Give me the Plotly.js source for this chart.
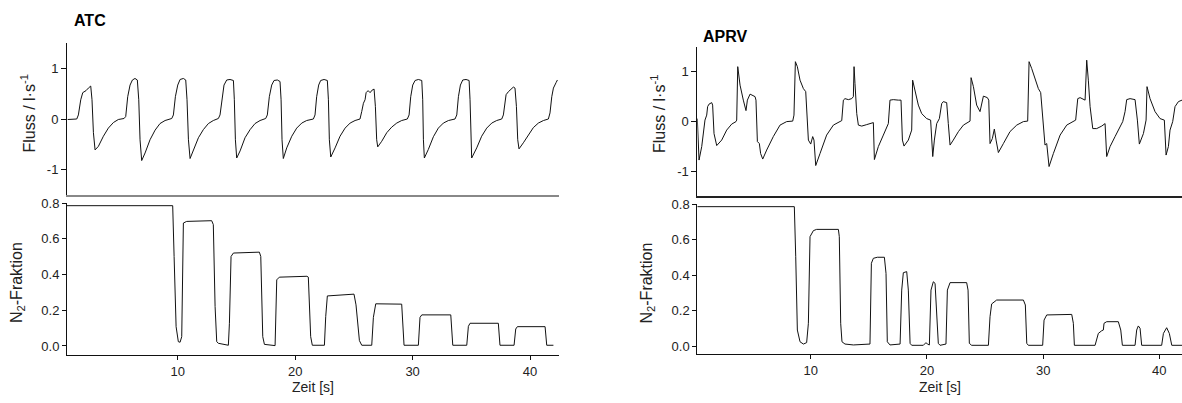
<!DOCTYPE html>
<html>
<head>
<meta charset="utf-8">
<script src="https://cdn.plot.ly/plotly-3.0.1.min.js"></script>
<style>html,body{margin:0;padding:0;background:#fff;}#chart{width:1182px;height:403px;}</style>
</head>
<body>
<div id="chart"></div>
<script>
// ---------- ATC: flow (l/s) over time (s) ----------
const atcFlowTime = [0.63,1.40,1.54,1.74,1.91,2.19,2.39,2.59,2.70,2.82,2.96,3.24,3.67,4.09,4.52,4.94,5.43,
5.57,5.74,5.94,6.14,6.36,6.56,6.68,6.79,6.93,7.22,7.64,8.07,8.49,8.92,9.49,
9.63,9.80,10.00,10.20,10.48,10.68,10.79,10.91,11.05,11.33,11.76,12.18,12.61,13.03,13.46,
13.60,13.77,13.94,14.17,14.45,14.74,14.82,14.91,15.02,15.31,15.73,16.16,16.58,17.01,17.49,
17.63,17.80,18.00,18.20,18.48,18.71,18.80,18.88,18.99,19.28,19.71,20.13,20.56,20.98,21.55,
21.69,21.83,22.00,22.17,22.46,22.74,22.83,22.91,23.03,23.40,23.82,24.25,24.68,25.10,25.52,
25.67,25.81,25.95,26.04,26.21,26.38,26.55,26.72,26.83,26.94,27.03,27.37,27.80,28.22,28.65,29.07,29.55,
29.70,29.84,30.01,30.21,30.49,30.78,30.86,30.92,31.00,31.34,31.77,32.19,32.62,33.05,33.61,
33.76,33.90,34.07,34.27,34.55,34.81,34.89,34.95,35.03,35.46,35.88,36.31,36.74,37.16,37.59,
37.73,37.87,37.96,38.16,38.38,38.58,38.72,38.84,38.95,39.06,39.43,39.86,40.28,40.71,41.14,41.56,
41.70,41.85,41.99,42.22,42.33];
const atcFlow = [-0.01,0.0,0.08,0.38,0.52,0.56,0.61,0.65,0.38,-0.27,-0.61,-0.54,-0.34,-0.18,-0.07,-0.01,0.01,
0.05,0.44,0.67,0.77,0.80,0.77,0.38,-0.41,-0.82,-0.67,-0.41,-0.22,-0.09,-0.03,0.01,
0.08,0.44,0.67,0.78,0.80,0.77,0.38,-0.41,-0.78,-0.63,-0.37,-0.21,-0.09,-0.03,0.01,
0.08,0.44,0.67,0.77,0.78,0.76,0.38,-0.41,-0.77,-0.63,-0.37,-0.21,-0.09,-0.03,0.01,
0.08,0.44,0.67,0.76,0.77,0.74,0.38,-0.41,-0.78,-0.57,-0.34,-0.18,-0.08,-0.03,0.0,
0.08,0.44,0.67,0.76,0.78,0.76,0.38,-0.41,-0.75,-0.57,-0.34,-0.18,-0.08,-0.03,0.0,
0.15,0.31,0.38,0.52,0.56,0.52,0.57,0.59,0.25,-0.41,-0.55,-0.44,-0.27,-0.16,-0.08,-0.03,0.0,
0.08,0.44,0.67,0.76,0.78,0.76,0.38,-0.41,-0.77,-0.60,-0.35,-0.18,-0.08,-0.03,0.0,
0.08,0.44,0.67,0.77,0.78,0.76,0.38,-0.41,-0.77,-0.57,-0.34,-0.18,-0.08,-0.03,0.0,
0.08,0.35,0.48,0.54,0.59,0.63,0.61,0.25,-0.41,-0.59,-0.47,-0.31,-0.17,-0.08,-0.03,0.0,
0.12,0.44,0.61,0.72,0.77];

// ---------- ATC: N2 fraction ----------
const atcN2Time = [0.57,9.57,9.69,9.86,10.05,10.20,10.34,10.48,10.76,12.89,13.03,13.18,13.32,13.46,14.31,14.40,14.54,14.74,
16.95,17.07,17.24,17.38,18.29,18.43,18.65,21.00,21.12,21.32,21.46,22.49,22.60,22.74,25.01,25.18,25.47,25.67,
26.52,26.66,26.86,29.07,29.27,30.49,30.63,30.78,33.25,33.42,34.61,34.75,34.89,37.30,37.44,38.64,38.78,38.92,41.28,41.42,41.99];
const atcN2 = [0.785,0.785,0.501,0.108,0.024,0.021,0.052,0.688,0.697,0.701,0.679,0.221,0.024,0.015,0.004,0.127,0.501,0.520,
0.525,0.501,0.052,0.009,0.002,0.370,0.385,0.390,0.385,0.052,0.004,0.004,0.164,0.280,0.290,0.230,0.030,0.004,
0.004,0.160,0.236,0.234,0.004,0.004,0.160,0.174,0.174,0.004,0.004,0.110,0.127,0.127,0.004,0.004,0.095,0.108,0.108,0.004,0.004];

// ---------- APRV: flow ----------
const aprvFlowTime = [0.24,0.39,0.62,0.76,0.90,1.05,1.13,1.25,1.48,1.56,1.68,1.91,2.34,2.77,3.20,3.57,3.63,3.72,3.92,4.20,
4.43,4.55,4.78,5.21,5.29,5.41,5.58,5.69,5.87,6.21,6.78,7.36,7.93,8.45,8.56,8.68,8.85,9.08,9.37,9.57,
9.65,9.80,10.00,10.17,10.28,10.43,10.80,11.37,11.95,12.52,12.67,12.81,12.95,13.24,13.53,13.67,13.73,13.81,13.96,14.10,
14.39,14.82,15.39,15.48,15.82,16.25,16.68,16.82,17.11,17.54,17.77,17.89,18.03,18.40,18.69,18.77,18.98,19.26,19.55,19.98,
20.32,20.41,20.50,20.64,20.84,21.07,21.27,21.41,21.70,21.84,21.99,22.27,22.71,23.14,23.57,23.71,23.80,24.00,24.28,24.57,
24.86,25.20,25.32,25.43,25.63,25.80,25.95,26.15,26.58,27.15,27.73,28.30,28.67,28.79,29.02,29.30,29.59,29.79,30.02,30.16,
30.31,30.51,30.88,31.46,32.03,32.60,32.80,32.98,33.18,33.61,33.75,33.89,34.04,34.27,34.61,35.04,35.33,35.47,35.76,36.19,
36.62,36.85,37.05,37.19,37.48,37.91,38.11,38.28,38.63,38.86,38.94,39.20,39.63,40.06,40.43,40.58,40.78,40.92,41.15,41.35,
41.64,41.95];
const aprvFlow = [0.05,-0.78,-0.51,-0.18,0.02,0.12,0.29,0.34,0.37,0.32,-0.25,-0.49,-0.38,-0.18,-0.06,-0.01,0.02,1.09,0.72,0.42,
0.21,0.42,0.54,0.49,0.42,-0.41,-0.45,-0.65,-0.76,-0.58,-0.31,-0.08,-0.01,0.0,0.12,1.19,1.09,0.82,0.65,0.59,
0.22,-0.38,-0.46,-0.31,-0.38,-0.89,-0.65,-0.28,-0.08,-0.02,0.01,0.42,0.45,0.43,0.45,0.49,1.09,0.75,0.15,-0.08,
-0.10,-0.07,-0.03,-0.77,-0.51,-0.28,-0.05,0.42,0.43,0.42,0.42,-0.38,-0.50,-0.38,-0.18,0.82,0.62,0.32,0.15,0.05,
0.02,-0.31,-0.71,-0.38,-0.05,0.05,0.35,0.39,0.37,-0.05,-0.48,-0.38,-0.21,-0.08,-0.01,0.0,0.87,0.69,0.32,0.19,
0.50,0.47,0.42,-0.45,-0.35,-0.16,-0.38,-0.63,-0.45,-0.21,-0.08,-0.01,0.0,1.19,1.05,0.85,0.65,0.57,-0.05,-0.48,
-0.45,-0.91,-0.65,-0.28,-0.08,0.0,0.02,0.45,0.47,0.42,1.22,0.82,0.29,-0.15,-0.15,-0.10,-0.05,-0.71,-0.51,-0.31,
-0.11,-0.01,0.19,0.43,0.45,0.43,0.02,-0.46,-0.25,0.02,0.69,0.45,0.19,0.05,0.02,-0.68,-0.51,-0.18,-0.01,0.29,
0.39,0.42];

// ---------- APRV: N2 fraction ----------
const aprvN2Time = [0.24,8.59,8.71,8.85,9.08,9.37,9.65,9.80,9.94,10.23,10.51,12.38,12.46,12.58,12.69,12.95,13.67,15.10,15.22,15.39,
15.73,16.34,16.48,16.59,16.82,17.69,17.83,17.97,18.26,18.40,18.55,18.69,19.69,19.92,20.04,20.21,20.35,20.55,20.70,20.84,
20.98,21.13,21.64,21.76,21.99,23.42,23.54,23.65,23.85,25.29,25.43,25.57,26.00,28.30,28.47,28.59,28.73,29.96,30.08,30.31,
32.46,32.60,32.69,34.47,34.75,35.04,35.18,35.24,35.47,36.47,36.68,36.82,37.91,38.05,38.19,38.34,38.48,40.20,40.35,40.63,
40.86,41.07,41.95];
const aprvN2 = [0.785,0.785,0.503,0.090,0.024,0.011,0.019,0.128,0.616,0.650,0.657,0.657,0.616,0.128,0.024,0.011,0.006,0.011,0.466,0.494,
0.500,0.500,0.409,0.024,0.006,0.011,0.315,0.413,0.419,0.315,0.015,0.004,0.004,0.019,0.011,0.006,0.315,0.362,0.353,0.203,
0.015,0.004,0.011,0.315,0.357,0.357,0.315,0.015,0.004,0.004,0.165,0.237,0.259,0.259,0.231,0.015,0.004,0.004,0.146,0.175,
0.178,0.128,0.004,0.004,0.071,0.086,0.090,0.128,0.137,0.137,0.090,0.004,0.004,0.090,0.113,0.100,0.004,0.004,0.071,0.103,
0.071,0.004,0.004];

// ---------- labels ----------
const timeTicks = [10, 20, 30, 40];
const flowTicks = [-1, 0, 1];
const flowTickText = ['-1', '0', '1'];
const n2Ticks = [0, 0.2, 0.4, 0.6, 0.8];
const n2TickText = ['0.0', '0.2', '0.4', '0.6', '0.8'];
const panelTitles = ['ATC', 'APRV'];
const flowTitle = 'Fluss / l·s<sup>-1</sup>';
const n2Title = 'N<sub>2</sub>-Fraktion';
const timeTitle = 'Zeit [s]';

const W = 1182, H = 403;
const px = v => v / W;
const py = v => 1 - v / H;
const FONT = 'Liberation Sans, Arial, Helvetica, sans-serif';
const lineStyle = {color: '#111', width: 1};

const traces = [
  {x: atcN2Time, y: atcN2, xaxis: 'x', yaxis: 'y', mode: 'lines', line: lineStyle, hoverinfo: 'skip'},
  {x: aprvN2Time, y: aprvN2, xaxis: 'x2', yaxis: 'y2', mode: 'lines', line: lineStyle, hoverinfo: 'skip'},
  {x: atcFlowTime, y: atcFlow, xaxis: 'x3', yaxis: 'y3', mode: 'lines', line: lineStyle, hoverinfo: 'skip'},
  {x: aprvFlowTime, y: aprvFlow, xaxis: 'x4', yaxis: 'y4', mode: 'lines', line: lineStyle, hoverinfo: 'skip'}
];

const tickFont = {family: FONT, size: 13, color: '#222'};
const yTitleFont = {family: FONT, size: 16, color: '#222'};
const xTitleFont = {family: FONT, size: 14, color: '#222'};
const baseX = {
  showgrid: false, zeroline: false, showline: true, linecolor: '#111', linewidth: 1, automargin: false,
  ticks: 'outside', ticklen: 4, tickwidth: 1, tickcolor: '#111', tickvals: timeTicks, tickfont: tickFont
};
const baseY = {
  showgrid: false, zeroline: false, showline: true, linecolor: '#111', linewidth: 1, automargin: false,
  ticks: 'outside', ticklen: 4, tickwidth: 1, tickcolor: '#111', tickfont: tickFont
};
const hiddenX = {ticks: '', showticklabels: false, tickvals: [], ticktext: []};

const leftDom = [px(67), px(558.7)];
const rightDom = [px(697.3), 1];

function ann(text, x, y, font, angle, anchor) {
  return {text: text, xref: 'paper', yref: 'paper', x: px(x), y: py(y), xanchor: anchor || 'center', yanchor: 'middle',
          textangle: angle || 0, showarrow: false, font: font};
}

const layout = {
  width: W, height: H,
  margin: {l: 0, r: 0, t: 0, b: 0},
  paper_bgcolor: '#fff', plot_bgcolor: '#fff',
  showlegend: false,
  font: {family: FONT, color: '#222'},
  xaxis: Object.assign({}, baseX, {domain: leftDom, range: [0.57, 42.44], anchor: 'y'}),
  yaxis: Object.assign({}, baseY, {domain: [py(355), py(203)], range: [-0.0505, 0.8], anchor: 'x', tickvals: n2Ticks, ticktext: n2TickText}),
  xaxis2: Object.assign({}, baseX, {domain: rightDom, range: [0.24, 41.95], anchor: 'y2'}),
  yaxis2: Object.assign({}, baseY, {domain: [py(354), py(204)], range: [-0.045, 0.8], anchor: 'x2', tickvals: n2Ticks, ticktext: n2TickText}),
  xaxis3: Object.assign({}, baseX, hiddenX, {domain: leftDom, range: [0.57, 42.44], anchor: 'y3', linecolor: '#888', linewidth: 2}),
  yaxis3: Object.assign({}, baseY, {domain: [py(195), py(43)], range: [-1.5, 1.5], anchor: 'x3', tickvals: flowTicks, ticktext: flowTickText, ticklen: 5}),
  xaxis4: Object.assign({}, baseX, hiddenX, {domain: rightDom, range: [0.24, 41.95], anchor: 'y4', linecolor: '#222', linewidth: 1.5}),
  yaxis4: Object.assign({}, baseY, {domain: [py(196), py(46.7)], range: [-1.5, 1.49], anchor: 'x4', tickvals: flowTicks, ticktext: flowTickText, ticklen: 5}),
  annotations: [
    ann('<b>' + panelTitles[0] + '</b>', 72, 20, {family: FONT, size: 16, color: '#000'}, 0, 'left'),
    ann('<b>' + panelTitles[1] + '</b>', 701, 36.5, {family: FONT, size: 16, color: '#000'}, 0, 'left'),
    ann(flowTitle, 29, 113.5, yTitleFont, -90),
    ann(n2Title, 17, 283, yTitleFont, -90),
    ann(flowTitle, 658, 114, yTitleFont, -90),
    ann(n2Title, 646.5, 283, yTitleFont, -90),
    ann(timeTitle, 312.5, 387, xTitleFont, 0),
    ann(timeTitle, 940, 387, xTitleFont, 0)
  ]
};

Plotly.newPlot('chart', traces, layout, {staticPlot: true, displayModeBar: false}).then(function () {
  const tester = document.getElementById('js-plotly-tester');
  if (tester) tester.remove();
});
</script>
</body>
</html>
